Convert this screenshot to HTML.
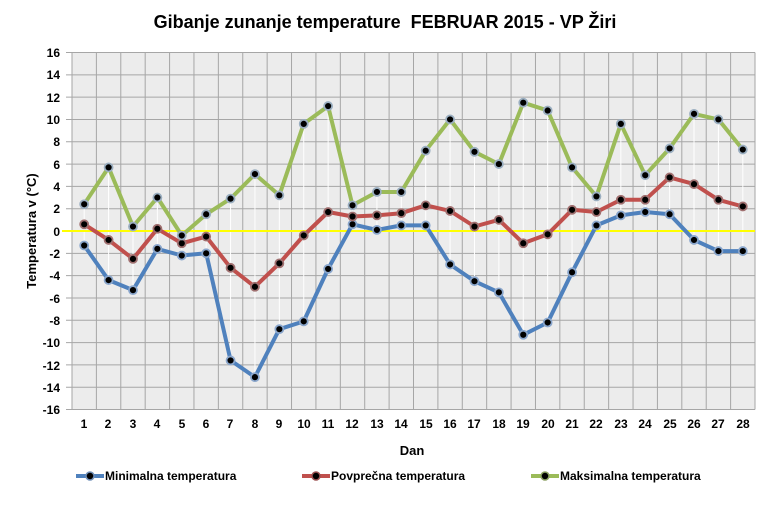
<!DOCTYPE html>
<html><head><meta charset="utf-8"><style>
body{margin:0;background:#fff;width:770px;height:505px;overflow:hidden}
svg text{font-family:"Liberation Sans",sans-serif;font-weight:bold}
</style></head><body>
<svg id="s" width="770" height="505" xmlns="http://www.w3.org/2000/svg">
<rect x="0" y="0" width="770" height="505" fill="#fff"/>
<rect x="72" y="52.5" width="683" height="357" fill="#ececec"/>
<g id="grid" stroke="#a6a6a6" stroke-width="1"></g>
<g id="hl" stroke="#fff" stroke-width="1"></g>
<line x1="62" y1="231" x2="755" y2="231" stroke="#ffff00" stroke-width="2"/>
<g id="ser"></g>
<text x="385" y="28" font-size="18" text-anchor="middle" fill="#000">Gibanje zunanje temperature &#160;FEBRUAR 2015 - VP Žiri</text>
<g font-size="12" text-anchor="end" fill="#000">
<text x="60" y="57">16</text><text x="60" y="79">14</text><text x="60" y="102">12</text><text x="60" y="124">10</text><text x="60" y="146">8</text><text x="60" y="169">6</text><text x="60" y="191">4</text><text x="60" y="213">2</text><text x="60" y="236">0</text><text x="60" y="258">-2</text><text x="60" y="280">-4</text><text x="60" y="303">-6</text><text x="60" y="325">-8</text><text x="60" y="347">-10</text><text x="60" y="370">-12</text><text x="60" y="392">-14</text><text x="60" y="414">-16</text>
</g>
<g font-size="12" text-anchor="middle" fill="#000">
<text x="84" y="428">1</text><text x="108" y="428">2</text><text x="133" y="428">3</text><text x="157" y="428">4</text><text x="182" y="428">5</text><text x="206" y="428">6</text><text x="230" y="428">7</text><text x="255" y="428">8</text><text x="279" y="428">9</text><text x="304" y="428">10</text><text x="328" y="428">11</text><text x="352" y="428">12</text><text x="377" y="428">13</text><text x="401" y="428">14</text><text x="426" y="428">15</text><text x="450" y="428">16</text><text x="474" y="428">17</text><text x="499" y="428">18</text><text x="523" y="428">19</text><text x="548" y="428">20</text><text x="572" y="428">21</text><text x="596" y="428">22</text><text x="621" y="428">23</text><text x="645" y="428">24</text><text x="670" y="428">25</text><text x="694" y="428">26</text><text x="718" y="428">27</text><text x="743" y="428">28</text>
</g>
<text x="412" y="455" font-size="13" text-anchor="middle">Dan</text>
<text transform="translate(36,231) rotate(-90)" font-size="13" text-anchor="middle">Temperatura v (°C)</text>
<g font-size="12" fill="#000">
<line x1="76" y1="476" x2="104" y2="476" stroke="#4f81bd" stroke-width="4"/><circle cx="90" cy="476" r="4" fill="#000" stroke="#6f8fb8" stroke-width="1.5"/><text x="105" y="480">Minimalna temperatura</text>
<line x1="302" y1="476" x2="330" y2="476" stroke="#c0504d" stroke-width="4"/><circle cx="316" cy="476" r="4" fill="#000" stroke="#9a5050" stroke-width="1.5"/><text x="331" y="480">Povprečna temperatura</text>
<line x1="531" y1="476" x2="559" y2="476" stroke="#9bbb59" stroke-width="4"/><circle cx="545" cy="476" r="4" fill="#000" stroke="#8aa060" stroke-width="1.5"/><text x="560" y="480">Maksimalna temperatura</text>
</g>
</svg>
<script>
var ns="http://www.w3.org/2000/svg";
function el(p,t,a){var e=document.createElementNS(ns,t);for(var k in a)e.setAttribute(k,a[k]);document.getElementById(p).appendChild(e);return e;}
var L=72,W=683,T=52.5,H=357,cw=W/28;
function X(i){return L+cw*(i+0.5)}
function Y(v){return T+(16-v)/32*H}
for(var i=0;i<=16;i++){var y=T+i*H/16;el("grid","line",{x1:L-6,y1:y,x2:L+W,y2:y});}
for(var i=0;i<=28;i++){var x=L+i*cw;el("grid","line",{x1:x,y1:T,x2:x,y2:T+H});}
var mn=[-1.3,-4.4,-5.3,-1.6,-2.2,-2.0,-11.6,-13.1,-8.8,-8.1,-3.4,0.6,0.1,0.5,0.5,-3.0,-4.5,-5.5,-9.3,-8.2,-3.7,0.5,1.4,1.7,1.5,-0.8,-1.8,-1.8];
var av=[0.6,-0.8,-2.5,0.2,-1.1,-0.5,-3.3,-5.0,-2.9,-0.4,1.7,1.3,1.4,1.6,2.3,1.8,0.4,1.0,-1.1,-0.3,1.9,1.7,2.8,2.8,4.8,4.2,2.8,2.2];
var mx=[2.4,5.7,0.4,3.0,-0.4,1.5,2.9,5.1,3.2,9.6,11.2,2.3,3.5,3.5,7.2,10.0,7.1,6.0,11.5,10.8,5.7,3.1,9.6,5.0,7.4,10.5,10.0,7.3];
for(var i=0;i<28;i++)el("hl","line",{x1:X(i),y1:Y(mx[i]),x2:X(i),y2:Y(mn[i])});
[[mn,"#4f81bd","#8aa6cc"],[av,"#c0504d","#a07070"],[mx,"#9bbb59","#9aaec0"]].forEach(function(s){
var d="";s[0].forEach(function(v,i){d+=(i?"L":"M")+X(i).toFixed(1)+" "+Y(v).toFixed(1)});
el("ser","path",{d:d,fill:"none",stroke:s[1],"stroke-width":4,"stroke-linejoin":"round"});
s[0].forEach(function(v,i){el("ser","circle",{cx:X(i),cy:Y(v),r:4,fill:"#000",stroke:s[2],"stroke-width":1.8});});
});
</script>
</body></html>
